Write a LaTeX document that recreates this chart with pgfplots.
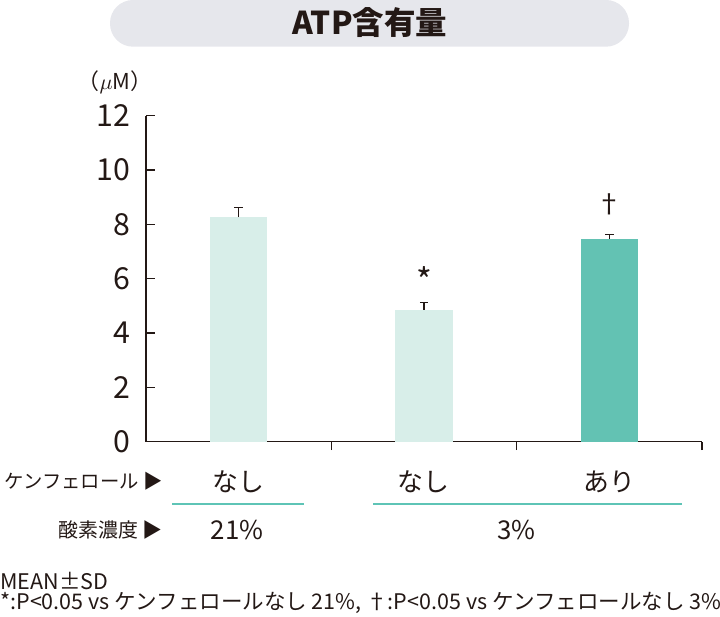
\documentclass[border=0pt]{standalone}
\usepackage{fontspec}
\setmainfont{Noto Sans CJK JP}
\usepackage{pgfplots}
\pgfplotsset{compat=1.18}
\definecolor{ink}{HTML}{231815}
\definecolor{barlight}{HTML}{D8EEE9}
\definecolor{bardark}{HTML}{63C2B3}
\definecolor{titlebg}{HTML}{E6E7EC}
\definecolor{rulecol}{HTML}{5EC4B6}

\begin{document}
\begin{tikzpicture}[x=0.5bp,y=-0.5bp]
\useasboundingbox (0,0) rectangle (720,617);
% title box
\fill[titlebg,rounded corners=11.5bp] (110,0) rectangle (629,46.7);
\node[font=\fontsize{15.8}{18}\selectfont\bfseries,text=ink] at (370,23) {ATP含有量};
\node[font=\fontsize{11}{13}\selectfont,text=ink] at (115,82) {（$\mu$M）};

\begin{axis}[
  at={(73bp,-220.85bp)}, anchor=south west,
  scale only axis, width=278bp, height=163bp,
  xmin=0, xmax=3, ymin=0, ymax=12,
  axis lines=left,
  axis line style={-, ink, line width=0.7bp},
  tick align=inside,
  major tick length=4.25bp,
  tick style={ink, line width=0.7bp},
  xtick={1,2,3}, xticklabels={},
  ytick={0,2,...,12},
  /pgf/number format/assume math mode=true,
  yticklabel style={font=\fontsize{15.2}{17}\selectfont, text=ink, inner sep=0pt, anchor=east, xshift=-7.5bp},
  ybar,
  clip=false,
]
\addplot[bar width=0.308, bar shift=0pt, fill=barlight, draw=none,
  error bars/.cd, y dir=plus, y explicit,
  error bar style={ink, line width=0.6bp},
  error mark options={rotate=90, ink, mark size=2.1bp, line width=0.6bp}]
  coordinates {(0.5,8.27) +- (0,0.34)};
\addplot[bar width=0.308, bar shift=0pt, fill=barlight, draw=none,
  error bars/.cd, y dir=plus, y explicit,
  error bar style={ink, line width=0.6bp},
  error mark options={rotate=90, ink, mark size=2.1bp, line width=0.6bp}]
  coordinates {(1.5,4.86) +- (0,0.25)};
\addplot[bar width=0.308, bar shift=0pt, fill=bardark, draw=none,
  error bars/.cd, y dir=plus, y explicit,
  error bar style={ink, line width=0.6bp},
  error mark options={rotate=90, ink, mark size=2.1bp, line width=0.6bp}]
  coordinates {(2.5,7.47) +- (0,0.15)};
\node[font=\fontsize{17}{19}\selectfont, text=ink] at (axis cs:1.5,5.95) {*};
\node[font=\fontsize{13}{15}\selectfont, text=ink] at (axis cs:2.5,8.75) {†};
\end{axis}

% category rows
\node[anchor=east, inner sep=0pt, font=\fontsize{9.7}{11}\selectfont, text=ink] at (163,481.7) {ケンフェロール ▶};
\node[anchor=east, inner sep=0pt, font=\fontsize{10}{12}\selectfont, text=ink] at (163,530) {酸素濃度 ▶};
\begin{scope}[every node/.style={font=\fontsize{13}{15}\selectfont, text=ink}]
\node at (238.7,481.7) {なし};
\node at (423,481.7) {なし};
\node at (609,481.7) {あり};
\node at (237,530) {21\%};
\node at (516.5,530) {3\%};
\end{scope}
\draw[rulecol, line width=0.85bp] (172,504.3) -- (304,504.3);
\draw[rulecol, line width=0.85bp] (373,504.3) -- (682,504.3);

% notes
\node[anchor=west, inner sep=0pt, font=\fontsize{10.8}{12}\selectfont, text=ink] at (0,581) {MEAN±SD};
\node[anchor=west, inner sep=0pt, font=\fontsize{10.8}{12}\selectfont, text=ink] at (0,603) {*:P<0.05 vs ケンフェロールなし 21\%, †:P<0.05 vs ケンフェロールなし 3\%};
\end{tikzpicture}
\end{document}
